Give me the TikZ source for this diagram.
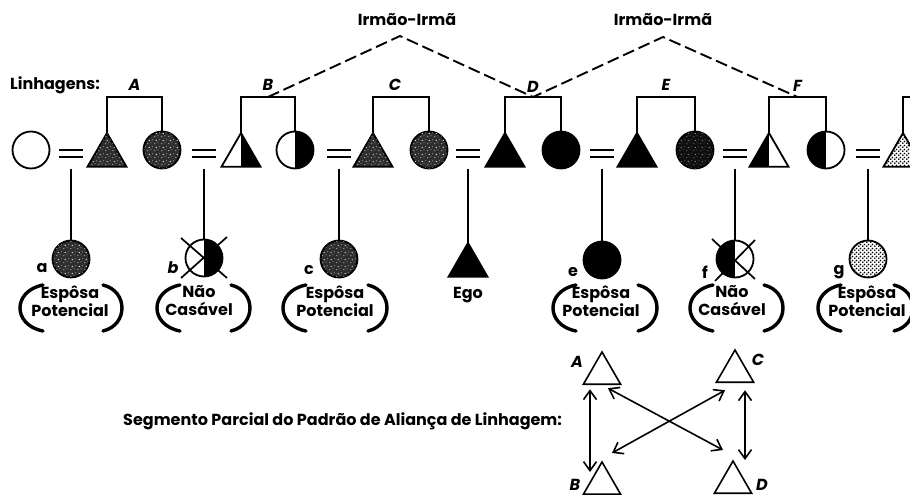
\documentclass[tikz,border=0pt]{standalone}
\usepackage{fontspec}
\setmainfont{Poppins}
\usetikzlibrary{shapes.geometric,patterns,arrows.meta,calc}

% dense dot screen and sparse light speckle for the shaded symbols
\pgfdeclarepatternformonly{bigdots}{\pgfqpoint{0pt}{0pt}}{\pgfqpoint{3.6pt}{3.6pt}}{\pgfqpoint{3.6pt}{3.6pt}}{%
  \pgfpathcircle{\pgfqpoint{0.9pt}{0.9pt}}{1.0pt}%
  \pgfpathcircle{\pgfqpoint{2.7pt}{2.7pt}}{1.0pt}%
  \pgfusepath{fill}}
\pgfdeclarepatternformonly{speckle}{\pgfqpoint{0pt}{0pt}}{\pgfqpoint{7pt}{7pt}}{\pgfqpoint{7pt}{7pt}}{%
  \pgfpathcircle{\pgfqpoint{1pt}{1.5pt}}{0.55pt}%
  \pgfpathcircle{\pgfqpoint{4.5pt}{2.5pt}}{0.5pt}%
  \pgfpathcircle{\pgfqpoint{2.5pt}{5pt}}{0.6pt}%
  \pgfpathcircle{\pgfqpoint{6pt}{5.8pt}}{0.45pt}%
  \pgfusepath{fill}}

\tikzset{
  sym/.style={draw=black, line width=1.8pt, inner sep=0pt, outer sep=0pt},
  fem/.style={sym, circle, minimum size=37pt},
  male/.style={sym, regular polygon, regular polygon sides=3, minimum size=45pt},
  smalltri/.style={draw=black, line width=1.6pt, inner sep=0pt, outer sep=0pt,
    regular polygon, regular polygon sides=3, minimum size=43pt},
  stipple/.style={fill=black!82, postaction={pattern=speckle, pattern color=white}},
  darkstipple/.style={fill=black!94, postaction={pattern=speckle, pattern color=black!40}},
  dotfill/.style={fill=white, postaction={pattern=bigdots, pattern color=black}},
  righthalf/.style={path picture={\fill[black] (path picture bounding box.north) rectangle (path picture bounding box.south east);}},
  lefthalf/.style={path picture={\fill[black] (path picture bounding box.north) rectangle (path picture bounding box.south west);}},
  marriage/.style={minimum width=24pt, minimum height=10pt, inner sep=0pt, outer sep=0pt,
    path picture={\draw[line width=2.3pt]
      ([yshift=3.5pt]path picture bounding box.west) -- ([yshift=3.5pt]path picture bounding box.east)
      ([yshift=-3.5pt]path picture bounding box.west) -- ([yshift=-3.5pt]path picture bounding box.east);}},
  kin/.style={line width=1.5pt},
  sib/.style={line width=1.9pt, dash pattern=on 12pt off 5pt},
  cross/.style={line width=1.7pt},
  lbl/.style={font=\bfseries\itshape\fontsize{16}{18}\selectfont, inner sep=0pt},
  small/.style={font=\bfseries\fontsize{16}{18}\selectfont, inner sep=0pt},
  group/.style={font=\bfseries\fontsize{16}{18}\selectfont, align=center, inner sep=0pt},
  parenline/.style={line width=3.4pt, line cap=round},
  openparen/.pic={\draw[parenline] (23,23) .. controls (-7.7,17) and (-7.7,-17) .. (23,-23);},
  closeparen/.pic={\draw[parenline] (-19,23) .. controls (6.3,17) and (6.3,-17) .. (-19,-23);},
  dbl/.style={line width=1.6pt, arrows={Straight Barb[length=9pt,width=13pt,line width=1.6pt]-Straight Barb[length=9pt,width=13pt,line width=1.6pt]}},
}

\begin{document}
\begin{tikzpicture}[x=1pt,y=1pt]
\useasboundingbox (0,0) rectangle (910,-495);
\clip (0,0) rectangle (910,-495);

% ---- header texts ----
\node[small, anchor=west] (lin) at (10,-85) {Linhagens:};
\node[small] (irm1) at (407,-20) {Irmão-Irmã};
\node[small] (irm2) at (663,-20) {Irmão-Irmã};

% ---- main row of lineage members ----
\node[fem] (c0) at (31,-150) {};
\node[marriage] (m1) at (71,-153.5) {};
\node[male, stipple] (tA) at (107,-155.5) {};
\node[fem, stipple] (cA) at (162,-150) {};
\node[marriage] (m2) at (204,-153.5) {};
\node[male, righthalf] (tB) at (241,-155.5) {};
\node[fem, righthalf] (cB) at (295,-150) {};
\node[marriage] (m3) at (339,-153.5) {};
\node[male, stipple] (tC) at (373,-155.5) {};
\node[fem, stipple] (cC) at (429,-150) {};
\node[marriage] (m4) at (468,-153.5) {};
\node[male, fill=black] (tD) at (505,-155.5) {};
\node[fem, fill=black] (cD) at (561,-150) {};
\node[marriage] (m5) at (602,-153.5) {};
\node[male, fill=black] (tE) at (637,-155.5) {};
\node[fem, darkstipple] (cE) at (695,-150) {};
\node[marriage] (m6) at (735,-153.5) {};
\node[male, lefthalf] (tF) at (769,-155.5) {};
\node[fem, lefthalf] (cF) at (826,-150) {};
\node[marriage] (m7) at (868,-153.5) {};
\node[male, dotfill] (tG) at (903,-155.5) {};

% ---- sibling brackets ----
\coordinate (barA) at (134.5,-97);
\coordinate (barB) at (268,-97);
\coordinate (barC) at (401,-97);
\coordinate (barD) at (533,-97);
\coordinate (barE) at (666,-97);
\coordinate (barF) at (797.5,-97);
\coordinate (barG) at (930,-97);
\draw[kin] (tA.corner 1) |- (barA) -| (cA.north);
\draw[kin] (tB.corner 1) |- (barB) -| (cB.north);
\draw[kin] (tC.corner 1) |- (barC) -| (cC.north);
\draw[kin] (tD.corner 1) |- (barD) -| (cD.north);
\draw[kin] (tE.corner 1) |- (barE) -| (cE.north);
\draw[kin] (tF.corner 1) |- (barF) -| (cF.north);
\draw[kin] (tG.corner 1) |- (barG);

\node[lbl] (LA) at ([yshift=12pt]barA) {A};
\node[lbl] (LB) at ([yshift=12pt]barB) {B};
\node[lbl] (LC) at ([xshift=-6pt,yshift=12pt]barC) {C};
\node[lbl] (LD) at ([yshift=10pt]barD) {D};
\node[lbl] (LE) at ([yshift=12pt]barE) {E};
\node[lbl] (LF) at ([yshift=11pt]barF) {F};

% brother-sister links between lineages
\coordinate (ap1) at (400,-36);
\coordinate (ap2) at (663,-37);
\draw[sib] (barB) -- (ap1) -- (barD) -- (ap2) -- (barF);

% ---- children of each marriage ----
\node[fem, stipple] (ca) at (71,-259) {};
\node[fem, righthalf] (cb) at (204,-258) {};
\node[fem, stipple] (cc) at (339,-259) {};
\node[male, fill=black] (ego) at (468,-265.5) {};
\node[fem, fill=black] (ce) at (602,-260) {};
\node[fem, lefthalf] (cf) at (735,-259) {};
\node[fem, dotfill] (cg) at (868,-259) {};

\draw[kin] ([yshift=-10pt]m1.south) -- (ca.north);
\draw[kin] ([yshift=-10pt]m2.south) -- (cb.north);
\draw[kin] ([yshift=-10pt]m3.south) -- (cc.north);
\draw[kin] ([yshift=-10pt]m4.south) -- (ego.corner 1);
\draw[kin] ([yshift=-10pt]m5.south) -- (ce.north);
\draw[kin] ([yshift=-10pt]m6.south) -- (cf.north);
\draw[kin] ([yshift=-10pt]m7.south) -- (cg.north);

% crossed-out (unmarriageable) women
\draw[cross] (cb.center) ++(-23,20) -- ++(46,-40) (cb.center) ++(23,21) -- ++(-46,-41);
\draw[cross] (cf.center) ++(-23,20) -- ++(43,-40) (cf.center) ++(20,19) -- ++(-40,-41);

\node[small] (la) at (42,-268) {a};
\node[lbl] (lb) at (173,-268) {b};
\node[small] (lc) at (309,-270) {c};
\node[small] (le) at (573,-272) {e};
\node[small] (lf) at (705,-272) {f};
\node[small] (lg) at (839,-272) {g};

\node[small] (egot) at (468,-295) {Ego};

% ---- captions in brackets ----
\node[group] (ga) at (70,-301) {Espôsa\\Potencial};
\node[group] (gb) at (199,-301) {Não\\Casável};
\node[group] (gc) at (335,-301) {Espôsa\\Potencial};
\node[group] (ge) at (601,-301) {Espôsa\\Potencial};
\node[group] (gf) at (732,-301) {Não\\Casável};
\node[group] (gg) at (867,-301) {Espôsa\\Potencial};

\pic at (20,-308) {openparen};   \pic at (122,-308) {closeparen};
\pic at (157,-308) {openparen};  \pic at (250,-308) {closeparen};
\pic at (283,-308) {openparen};  \pic at (387,-308) {closeparen};
\pic at (553,-308) {openparen};  \pic at (657,-308) {closeparen};
\pic at (690,-308) {openparen};  \pic at (783,-308) {closeparen};
\pic at (818,-308) {openparen};  \pic at (913,-308) {closeparen};

% ---- partial alliance pattern ----
\node[small, anchor=west] (seg) at (123,-421) {Segmento Parcial do Padrão de Aliança de Linhagem:};

\node[smalltri] (pA) at (602,-373.5) {};
\node[smalltri] (pC) at (735,-371.5) {};
\node[smalltri] (pB) at (602,-483.5) {};
\node[smalltri] (pD) at (733,-482.5) {};

\node[lbl] (qA) at (577,-362) {A};
\node[lbl] (qC) at (758,-360) {C};
\node[lbl] (qB) at (575,-485) {B};
\node[lbl] (qD) at (762,-485) {D};

\draw[dbl] ([xshift=-12pt,yshift=-5pt]pA.south) -- ([xshift=-12pt,yshift=-10pt]pB.north);
\draw[dbl] ([xshift=10pt,yshift=-8pt]pC.south) -- ([xshift=12pt,yshift=1pt]pD.north);
\draw[dbl] ([xshift=6pt,yshift=-4pt]pA.south) -- ([xshift=-10pt,yshift=11pt]pD.north);
\draw[dbl] ([xshift=-10pt,yshift=-8pt]pC.south) -- ([xshift=10pt,yshift=9pt]pB.north);
\end{tikzpicture}
\end{document}
